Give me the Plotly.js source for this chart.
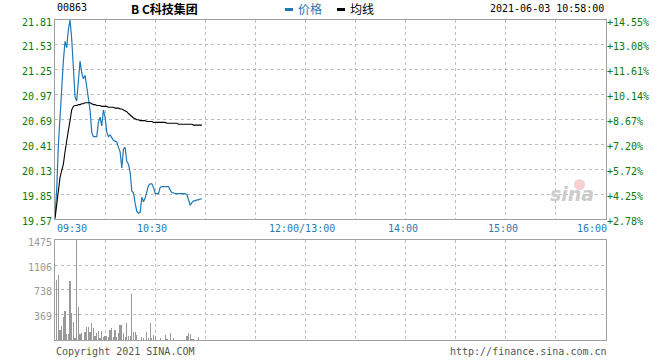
<!DOCTYPE html>
<html>
<head>
<meta charset="utf-8">
<script src="https://cdn.plot.ly/plotly-3.0.1.min.js"></script>
<style>html,body{margin:0;padding:0;background:#fff;}#chart{width:660px;height:360px;}</style>
</head>
<body>
<div id="chart"></div>
<script>
// minutes after 09:30 (one point per minute, 09:30 .. 10:58)
const minuteIndex = [0,1,2,3,4,5,6,7,8,9,10,11,12,13,14,15,16,17,18,19,20,21,22,23,24,25,26,27,28,29,30,31,32,33,34,35,36,37,38,39,40,41,42,43,44,45,46,47,48,49,50,51,52,53,54,55,56,57,58,59,60,61,62,63,64,65,66,67,68,69,70,71,72,73,74,75,76,77,78,79,80,81,82,83,84,85,86,87,88];
const price = [19.60,19.90,20.40,20.75,20.95,21.35,21.57,21.50,21.70,21.81,21.60,21.25,20.95,20.90,21.14,21.35,21.22,21.15,21.19,21.06,20.92,20.80,20.55,20.50,20.50,20.50,20.66,20.72,20.62,20.80,20.72,20.55,20.50,20.52,20.49,20.46,20.45,20.44,20.38,20.33,20.15,20.36,20.38,20.22,20.19,20.10,19.89,19.87,19.75,19.66,19.64,19.65,19.82,19.77,19.81,19.88,19.95,19.97,19.97,19.93,19.86,19.86,19.86,19.93,19.94,19.94,19.94,19.94,19.94,19.90,19.87,19.87,19.86,19.86,19.86,19.86,19.86,19.86,19.86,19.85,19.80,19.73,19.76,19.78,19.78,19.79,19.79,19.80,19.80];
const avgPrice = [19.58,19.75,19.92,20.04,20.12,20.19,20.33,20.47,20.57,20.68,20.80,20.84,20.85,20.85,20.86,20.86,20.87,20.87,20.88,20.88,20.88,20.88,20.87,20.86,20.86,20.85,20.85,20.85,20.84,20.84,20.84,20.84,20.83,20.83,20.83,20.83,20.82,20.82,20.82,20.81,20.81,20.80,20.79,20.78,20.76,20.74,20.72,20.71,20.70,20.69,20.69,20.68,20.68,20.68,20.68,20.67,20.67,20.67,20.67,20.66,20.66,20.66,20.66,20.66,20.66,20.66,20.66,20.65,20.65,20.65,20.65,20.65,20.65,20.65,20.64,20.64,20.64,20.64,20.64,20.64,20.64,20.64,20.64,20.63,20.63,20.63,20.63,20.63,20.63];
const volume = [0,885,959,148,206,334,428,88,88,875,403,270,34,1475,492,88,108,0,123,197,197,123,256,182,59,108,138,25,138,39,64,59,49,148,182,39,148,49,108,221,221,108,39,256,59,59,678,123,123,74,0,0,49,34,0,123,25,256,25,74,59,0,0,25,0,0,74,20,0,108,0,34,0,0,0,0,0,0,0,59,108,84,20,20,0,0,49,0,0];

const priceTicks = [19.57,19.85,20.13,20.41,20.69,20.97,21.25,21.53,21.81];
const pctTickLabels = ['+2.78%','+4.25%','+5.72%','+7.20%','+8.67%','+10.14%','+11.61%','+13.08%','+14.55%'];
const volTicks = [369,738,1106,1475];
const gridMinutes = [0,30,60,90,120,150,180,210,240,270,300,330];
const timeLabelPos = [0,60,150,210,270,330];
const timeLabels = ['09:30','10:30','12:00/13:00','14:00','15:00','16:00'];

const mono = 'DejaVu Sans Mono, monospace';
const gridCol = '#bdbdbd';
const frameCol = '#a0a0a0';

const traces = [
  {x: minuteIndex, y: price, type:'scatter', mode:'lines', line:{color:'#1f77b4', width:1.2}, xaxis:'x', yaxis:'y', hoverinfo:'skip', showlegend:false},
  {x: minuteIndex, y: avgPrice, type:'scatter', mode:'lines', line:{color:'#000000', width:1.1}, xaxis:'x', yaxis:'y', hoverinfo:'skip', showlegend:false},
  {x: [0], y: [priceTicks[0]], type:'scatter', mode:'markers', marker:{opacity:0}, xaxis:'x', yaxis:'y3', hoverinfo:'skip', showlegend:false},
  {x: minuteIndex, y: volume, type:'bar', width:0.75, marker:{color:'#999999', line:{width:0}}, xaxis:'x2', yaxis:'y2', hoverinfo:'skip', showlegend:false}
];

const px = p => (p-55)/551;
const py = p => (340-p)/320;

const annotations = [
  {text:'00863', x:px(55), y:py(8), xref:'paper', yref:'paper', xanchor:'left', yanchor:'middle', showarrow:false, font:{family:mono, size:10, color:'#000'}},
  {text:'<b>B C科技集团</b>', x:px(129), y:py(9), xref:'paper', yref:'paper', xanchor:'left', yanchor:'middle', showarrow:false, font:{family:'Noto Sans CJK SC', size:12, color:'#000'}},
  {text:'价格', x:px(296), y:py(9), xref:'paper', yref:'paper', xanchor:'left', yanchor:'middle', showarrow:false, font:{family:'Noto Sans CJK SC', size:12, color:'#1f77b4'}},
  {text:'均线', x:px(348), y:py(9), xref:'paper', yref:'paper', xanchor:'left', yanchor:'middle', showarrow:false, font:{family:'Noto Sans CJK SC', size:12, color:'#000'}},
  {text:'2021-06-03 10:58:00', x:px(606), y:py(9), xref:'paper', yref:'paper', xanchor:'right', yanchor:'middle', showarrow:false, font:{family:mono, size:10, color:'#000'}},
  {text:'Copyright 2021 SINA.COM', x:px(54), y:py(351), xref:'paper', yref:'paper', xanchor:'left', yanchor:'middle', showarrow:false, font:{family:mono, size:10, color:'#555'}},
  {text:'http://finance.sina.com.cn', x:px(609), y:py(351), xref:'paper', yref:'paper', xanchor:'right', yanchor:'middle', showarrow:false, font:{family:mono, size:10, color:'#555'}},
  {text:'<i><b>sina</b></i>', x:px(572), y:py(194), xref:'paper', yref:'paper', xanchor:'center', yanchor:'middle', showarrow:false, font:{family:'DejaVu Sans', size:19, color:'#cccccc'}}
];
timeLabels.forEach((t,i)=>{
  const anchor = i===0 ? 'left' : (i===timeLabels.length-1 ? 'right' : 'center');
  const shift = i===0 ? 0 : (i===timeLabels.length-1 ? 3 : -3);
  annotations.push({text:t, x:timeLabelPos[i], xref:'x', y:py(228), yref:'paper', xanchor:anchor, yanchor:'middle', xshift:shift, showarrow:false, font:{family:mono, size:10, color:'#2a7ab0'}});
});

const shapes = [
  {type:'rect', xref:'paper', yref:'paper', x0:px(285), x1:px(293), y0:py(11), y1:py(8), fillcolor:'#1f77b4', line:{width:0}},
  {type:'rect', xref:'paper', yref:'paper', x0:px(337), x1:px(345), y0:py(11), y1:py(8), fillcolor:'#000', line:{width:0}},
  {type:'circle', xref:'paper', yref:'paper', x0:px(574), x1:px(585), y0:py(190), y1:py(179), fillcolor:'rgba(230,120,120,0.35)', line:{width:0}}
];

const layout = {
  width:660, height:360,
  margin:{l:55, r:54, t:20, b:20},
  paper_bgcolor:'#fff', plot_bgcolor:'#fff',
  showlegend:false,
  bargap:0,
  xaxis:{domain:[0,1], range:[0,330], anchor:'y', tickvals:gridMinutes, showticklabels:false, ticks:'', showgrid:true, gridcolor:gridCol, griddash:'dot', gridwidth:1, zeroline:false, showline:true, linecolor:frameCol, linewidth:1, mirror:true, fixedrange:true},
  yaxis:{domain:[0.3766,1], range:[19.57,21.81], tickvals:priceTicks, ticktext:priceTicks.map(v=>v.toFixed(2)), tickfont:{family:mono, size:10, color:'#0b7a0b'}, ticklabelshift:2, ticks:'', showgrid:true, gridcolor:gridCol, griddash:'dot', zeroline:false, showline:true, linecolor:frameCol, mirror:true, fixedrange:true},
  yaxis3:{overlaying:'y', side:'right', anchor:'x', range:[19.57,21.81], tickvals:priceTicks, ticktext:pctTickLabels, tickfont:{family:mono, size:10, color:'#0b7a0b'}, ticklabelshift:2, ticks:'', showgrid:false, zeroline:false, showline:false, fixedrange:true},
  xaxis2:{domain:[0,1], range:[0,330], anchor:'y2', tickvals:gridMinutes, showticklabels:false, ticks:'', showgrid:true, gridcolor:gridCol, griddash:'dot', zeroline:false, showline:true, linecolor:frameCol, mirror:true, fixedrange:true},
  yaxis2:{domain:[0,0.3125], range:[0,1475], tickvals:volTicks, ticktext:volTicks.map(String), tickfont:{family:mono, size:10, color:'#999'}, ticklabelshift:2, ticks:'', showgrid:true, gridcolor:gridCol, griddash:'dot', zeroline:false, showline:true, linecolor:frameCol, mirror:true, fixedrange:true},
  annotations: annotations,
  shapes: shapes
};

Plotly.newPlot('chart', traces, layout, {staticPlot:true, displayModeBar:false});
</script>
</body>
</html>
